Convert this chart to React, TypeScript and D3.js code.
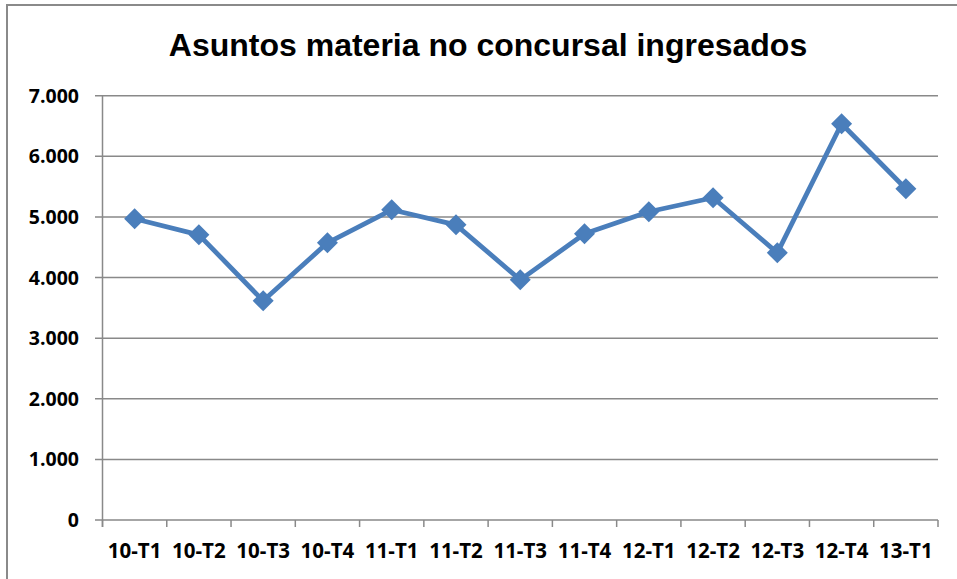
import React from "react";
import * as d3 from "d3";

const categories = ["10-T1","10-T2","10-T3","10-T4","11-T1","11-T2","11-T3","11-T4","12-T1","12-T2","12-T3","12-T4","13-T1"];
const values = [4970, 4705, 3616, 4573, 5118, 4870, 3962, 4722, 5085, 5316, 4408, 6538, 5465];
const yTicks = [0, 1000, 2000, 3000, 4000, 5000, 6000, 7000];
const title = "Asuntos materia no concursal ingresados";

const W = 957, H = 579;
const left = 102.5, right = 938, top = 95.7, bottom = 520;

export default function App() {
  const x = d3.scaleBand<string>().domain(categories).range([left, right]);
  const y = d3.scaleLinear().domain([0, 7000]).range([bottom, top]);
  const fmt = (v: number) => v === 0 ? "0" : d3.format(",")(v).replace(/,/g, ".");
  const line = d3.line<number>()
    .x((_, i) => x(categories[i])! + x.bandwidth() / 2)
    .y(d => y(d));
  const gridColor = "#898989";
  const blue = "#4a7ebb";
  const bounds = x.range();
  const tickXs = categories.map(c => x(c)!).concat([bounds[1]]);
  return (
    <div style={{ position: "absolute", left: 0, top: 0 }}>
      <svg width={W} height={H} style={{ display: "block", background: "#fff" }}>
        <rect x={7} y={5} width={W + 10} height={H + 10} fill="#fff" stroke="#8a8a8a" strokeWidth={2} />
        <text x={488} y={56} textAnchor="middle" fontFamily="Liberation Sans, Arial, sans-serif" fontWeight="bold" fontSize={32} fill="#000">{title}</text>
        {yTicks.map(t => (
          <g key={t}>
            <line x1={95} x2={right} y1={y(t)} y2={y(t)} stroke={gridColor} strokeWidth={1.5} />
            <text x={79} y={y(t)} dy="0.36em" textAnchor="end" fontFamily="Open Sans, sans-serif" fontWeight="bold" fontSize={19.5} fill="#000">{fmt(t)}</text>
          </g>
        ))}
        <line x1={left} x2={left} y1={top} y2={bottom + 7} stroke={gridColor} strokeWidth={1.5} />
        {tickXs.map((tx, i) => (
          <line key={i} x1={tx} x2={tx} y1={bottom} y2={bottom + 7} stroke={gridColor} strokeWidth={1.5} />
        ))}
        {categories.map(c => (
          <text key={c} x={x(c)! + x.bandwidth() / 2} y={558} textAnchor="middle" fontFamily="Open Sans, sans-serif" fontWeight="bold" fontSize={20.5} fill="#000">{c}</text>
        ))}
        <path d={line(values)!} fill="none" stroke={blue} strokeWidth={4.8} strokeLinejoin="round" />
        {values.map((v, i) => {
          const cx = x(categories[i])! + x.bandwidth() / 2;
          const cy = y(v);
          const r = 10.5;
          return <path key={i} d={`M${cx},${cy - r}L${cx + r},${cy}L${cx},${cy + r}L${cx - r},${cy}Z`} fill={blue} />;
        })}
      </svg>
    </div>
  );
}
